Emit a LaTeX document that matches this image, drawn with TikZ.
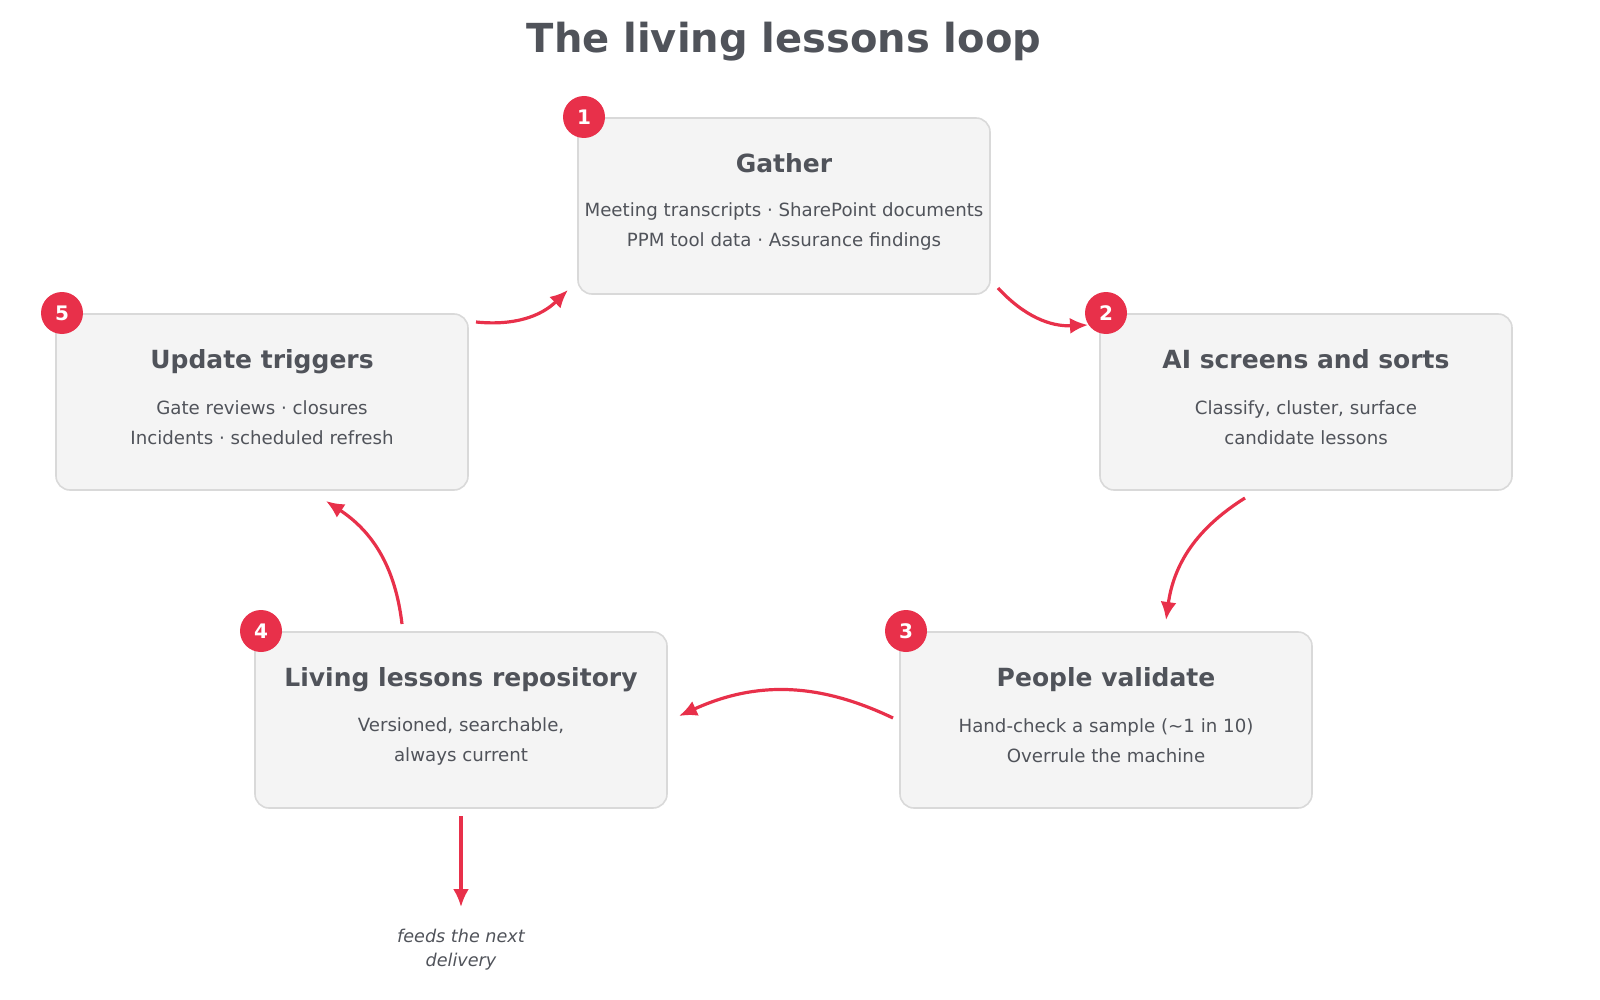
\documentclass[tikz,border=0pt]{standalone}
\usepackage{fontspec}
\setmainfont{DejaVu Sans}
\definecolor{boxfill}{HTML}{F4F4F4}
\definecolor{boxline}{HTML}{D9D9D9}
\definecolor{accent}{HTML}{E8304A}
\definecolor{ink}{HTML}{50535A}
\usetikzlibrary{arrows.meta}
\tikzset{
  box/.style={draw=boxline, line width=0.8pt, fill=boxfill, rounded corners=7pt, minimum width=206pt, minimum height=88pt},
  head/.style={text=ink, font=\bfseries\fontsize{12.5}{14}\selectfont, text height=9pt, text depth=2.5pt},
  body/.style={text=ink, font=\fontsize{9.1}{15}\selectfont, align=center},
  badge/.style={circle, fill=accent, text=white, minimum size=21pt, inner sep=0pt, font=\bfseries\fontsize{10}{12}\selectfont},
  arr/.style={draw=accent, line width=1.6pt, -{Latex[length=9pt,width=8pt]}, bend right=25},
}
\begin{document}
\begin{tikzpicture}[x=0.5pt,y=-0.5pt]
\useasboundingbox (0,0) rectangle (1600,1000);
\node[text=ink, font=\bfseries\fontsize{20}{24}\selectfont] (title) at (784,42) {The living lessons loop};

\node[box] (g) at (784,206) {};
\node[head] (gh) at (784,166) {Gather};
\node[body] (gb) at (784,226) {Meeting transcripts · SharePoint documents\\PPM tool data · Assurance findings};
\node[badge] (b1) at (584,117) {1};

\node[box] (a) at (1306,402) {};
\node[head] (ah) at (1306,362) {AI screens and sorts};
\node[body] (ab) at (1306,423) {Classify, cluster, surface\\candidate lessons};
\node[badge] (b2) at (1106,313) {2};

\node[box] (p) at (1106,720) {};
\node[head] (ph) at (1106,680) {People validate};
\node[body] (pb) at (1106,741) {Hand-check a sample (\textasciitilde1 in 10)\\Overrule the machine};
\node[badge] (b3) at (906,631) {3};

\node[box] (r) at (461,720) {};
\node[head] (rh) at (461,680) {Living lessons repository};
\node[body] (rb) at (461,741) {Versioned, searchable,\\always current};
\node[badge] (b4) at (261,631) {4};

\node[box] (u) at (262,402) {};
\node[head] (uh) at (262,362) {Update triggers};
\node[body] (ub) at (262,423) {Gate reviews · closures\\Incidents · scheduled refresh};
\node[badge] (b5) at (62,313) {5};

\node[text=ink, font=\itshape\fontsize{8.8}{12}\selectfont, align=center] (feed) at (461,950) {feeds the next\\delivery};

\coordinate (c1s) at (476,322); \coordinate (c1e) at (568,290);
\coordinate (c2s) at (998,288); \coordinate (c2e) at (1088,325);
\coordinate (c3s) at (1245,498); \coordinate (c3e) at (1166,620);
\coordinate (c4s) at (893,718); \coordinate (c4e) at (679,716);
\coordinate (c5s) at (402,624); \coordinate (c5e) at (326,501);
\coordinate (c6s) at (461,816); \coordinate (c6e) at (461,907);

\draw[arr] (c1s) to (c1e);
\draw[arr] (c2s) to (c2e);
\draw[arr] (c3s) to (c3e);
\draw[arr] (c4s) to (c4e);
\draw[arr] (c5s) to (c5e);
\draw[arr, bend right=0] (c6s) -- (c6e);
\end{tikzpicture}
\end{document}
